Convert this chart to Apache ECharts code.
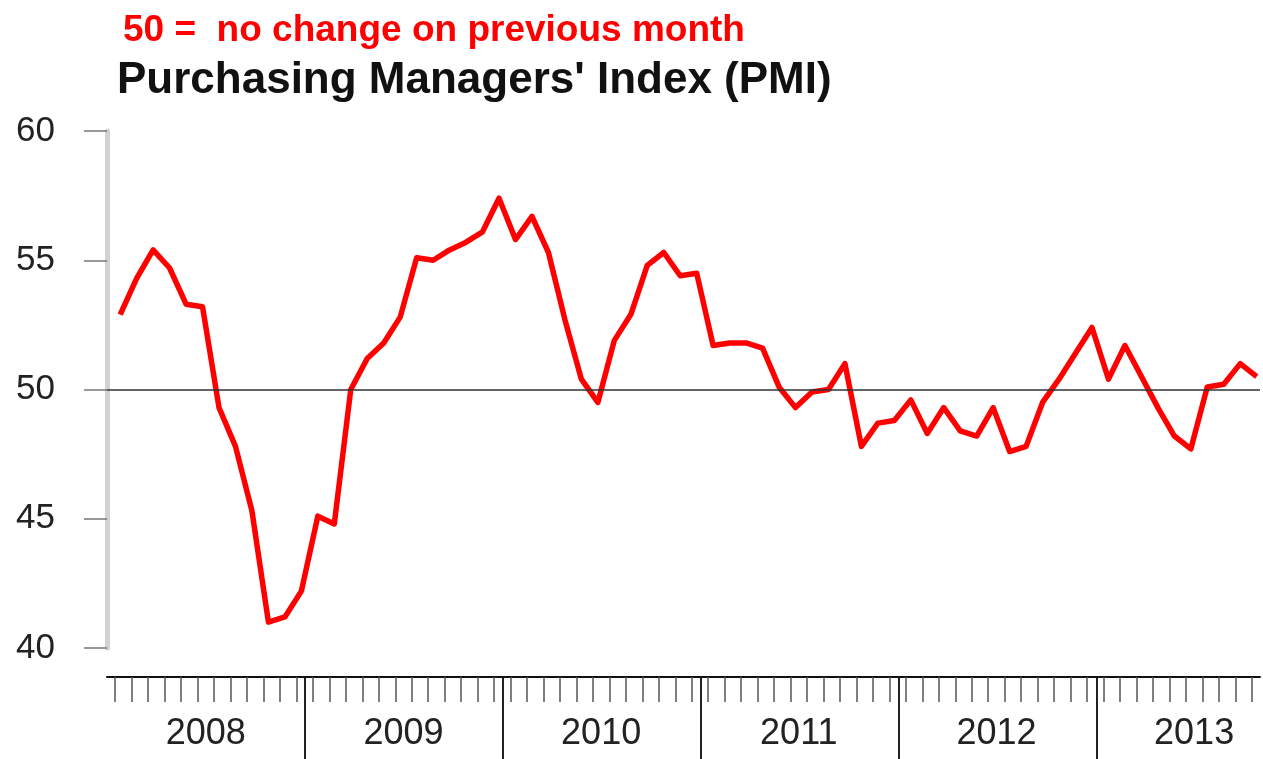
<!DOCTYPE html>
<html>
<head>
<meta charset="utf-8">
<script src="https://cdn.jsdelivr.net/npm/echarts@6/dist/echarts.min.js"></script>
<style>
html,body{margin:0;padding:0;background:#fff;}
#chart{width:1263px;height:759px;}
</style>
</head>
<body>
<div id="chart"></div>
<script>
// ---- data ----
const years = ['2008', '2009', '2010', '2011', '2012', '2013'];
const monthNames = ['Jan','Feb','Mar','Apr','May','Jun','Jul','Aug','Sep','Oct','Nov','Dec'];
const pmi2008 = [52.9, 54.3, 55.4, 54.7, 53.3, 53.2, 49.3, 47.8, 45.3, 41.0, 41.2, 42.2];
const pmi2009 = [45.1, 44.8, 50.0, 51.2, 51.8, 52.8, 55.1, 55.0, 55.4, 55.7, 56.1, 57.4];
const pmi2010 = [55.8, 56.7, 55.3, 52.7, 50.4, 49.5, 51.9, 52.9, 54.8, 55.3, 54.4, 54.5];
const pmi2011 = [51.7, 51.8, 51.8, 51.6, 50.1, 49.3, 49.9, 50.0, 51.0, 47.8, 48.7, 48.8];
const pmi2012 = [49.6, 48.3, 49.3, 48.4, 48.2, 49.3, 47.6, 47.8, 49.5, 50.4, 51.4, 52.4];
const pmi2013 = [50.4, 51.7, 50.5, 49.3, 48.2, 47.7, 50.1, 50.2, 51.0, 50.5];
const yTicks = [40, 45, 50, 55, 60];
const referenceLevel = 50;
const titleText = "Purchasing Managers' Index (PMI)";
const noteText = '50 =  no change on previous month';

// ---- derived ----
const pmi = [].concat(pmi2008, pmi2009, pmi2010, pmi2011, pmi2012, pmi2013);
const months = [];
for (let i = 0; i < pmi.length; i++) {
  months.push(monthNames[i % 12] + ' ' + years[Math.floor(i / 12)]);
}
const nMonths = months.length;
const POINT_OFFSET = 0.8; // where within the month each reading is plotted
const seriesData = pmi.map((v, i) => [i + POINT_OFFSET, v]);

const FONT = 'Liberation Sans, Arial, sans-serif';

const chart = echarts.init(document.getElementById('chart'));
chart.setOption({
  animation: false,
  backgroundColor: '#ffffff',
  title: [
    { text: noteText, left: 123, top: 12, padding: 0,
      textStyle: { color: '#ff0000', fontSize: 37, fontWeight: 'bold', fontFamily: FONT } },
    { text: titleText, left: 117, top: 59, padding: 0,
      textStyle: { color: '#111111', fontSize: 44, fontWeight: 'bold', fontFamily: FONT } }
  ],
  grid: [
    { left: 107, right: 1, top: 131, bottom: 111 },
    { left: 107, right: 1, top: 677, bottom: 0 }
  ],
  xAxis: [
    { // month ticks
      gridIndex: 0, type: 'category', position: 'bottom', data: months, boundaryGap: true, offset: 29,
      axisLine: { show: true, lineStyle: { color: '#111', width: 2 } },
      axisTick: { show: true, alignWithLabel: true, interval: 0, length: 25,
                  lineStyle: { color: '#555', width: 1.5 } },
      axisLabel: { show: false }, splitLine: { show: false }
    },
    { // value axis for data & year labels
      gridIndex: 0, type: 'value', position: 'bottom', min: 0, max: nMonths, interval: 6, offset: 29,
      axisLine: { show: false }, axisTick: { show: false }, splitLine: { show: false },
      axisLabel: {
        show: true, margin: 39, fontSize: 36, color: '#222', fontFamily: FONT,
        formatter: function (v) {
          if (v % 12 === 6) { return years[(v - 6) / 12] || ''; }
          return '';
        }
      }
    },
    { // year boundary lines below axis
      gridIndex: 1, type: 'value', position: 'bottom', min: 0, max: nMonths, interval: 12,
      axisLine: { show: false }, axisTick: { show: false }, axisLabel: { show: false },
      splitLine: { show: true, showMinLine: false, showMaxLine: false,
                   lineStyle: { color: '#222', width: 2 } }
    }
  ],
  yAxis: [
    {
      gridIndex: 0, type: 'value', min: yTicks[0], max: yTicks[yTicks.length - 1], interval: 5, offset: 2,
      axisLine: { show: true, lineStyle: { color: '#d2d2d2', width: 5 } },
      axisTick: { show: true, length: 23, lineStyle: { color: '#777', width: 1.5 } },
      axisLabel: { fontSize: 35, color: '#222', margin: 50, fontFamily: FONT, padding: [8, 0, 0, 0] },
      splitLine: { show: false }
    },
    { gridIndex: 1, type: 'value', show: false }
  ],
  series: [
    {
      type: 'line', xAxisIndex: 1, yAxisIndex: 0, data: [], z: 1,
      markLine: {
        silent: true, symbol: 'none', animation: false,
        label: { show: false },
        lineStyle: { color: '#333', width: 1.5, type: 'solid' },
        data: [{ yAxis: referenceLevel }]
      }
    },
    {
      type: 'line', xAxisIndex: 1, yAxisIndex: 0, data: seriesData, z: 3,
      symbol: 'none', smooth: false,
      lineStyle: { color: '#ff0000', width: 5.5, join: 'round' }
    }
  ]
});
</script>
</body>
</html>
